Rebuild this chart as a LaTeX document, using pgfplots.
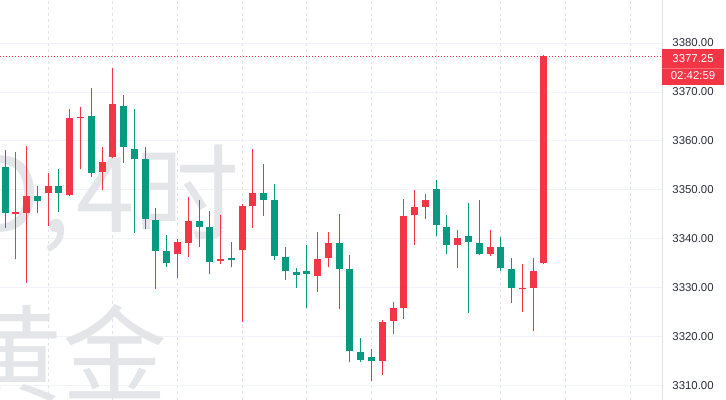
\documentclass[border=0pt]{standalone}
\usepackage{fontspec}
\setmainfont{Liberation Sans}
\newfontfamily\cjk{Noto Sans CJK SC}
\usepackage{pgfplots}
\usepackage{pgfplotstable}
\pgfplotsset{compat=1.18}

\definecolor{upred}{HTML}{F23645}
\definecolor{dngreen}{HTML}{089981}
\definecolor{gridc}{HTML}{F0F3FA}
\definecolor{vgridc}{HTML}{E0E3EB}
\definecolor{wmark}{HTML}{E4E5E8}
\definecolor{lab}{HTML}{2A2E39}

% 4h candles, red = close above open
\pgfplotstableread{
i  o       h       l       c
1  3345.2  3357.7  3335.9  3345.3
2  3345.4  3359.0  3331.1  3348.8
4  3349.3  3353.4  3342.7  3350.8
6  3349.0  3366.5  3348.8  3364.6
7  3364.7  3367.0  3354.2  3364.9
9  3353.7  3358.7  3350.0  3355.7
10 3356.8  3374.8  3356.5  3367.5
16 3336.9  3339.9  3332.0  3339.3
17 3339.2  3348.6  3336.4  3343.7
20 3335.6  3344.9  3334.9  3335.8
22 3337.8  3347.1  3323.1  3346.8
23 3346.8  3358.3  3342.2  3349.4
29 3332.5  3341.5  3329.1  3335.9
30 3336.1  3341.5  3334.2  3339.1
35 3315.2  3323.5  3312.2  3323.1
36 3323.3  3327.2  3320.6  3325.9
37 3326.0  3348.1  3323.7  3344.7
38 3344.8  3350.0  3338.8  3346.5
39 3346.6  3349.2  3344.0  3348.0
42 3338.8  3341.8  3334.0  3340.3
45 3336.9  3341.8  3336.5  3338.3
48 3329.7  3334.9  3325.0  3329.9
49 3329.9  3336.1  3321.2  3333.5
50 3335.0  3377.5  3334.9  3377.25
}\up

\pgfplotstableread{
i  o       h       l       c
0  3354.6  3358.2  3342.2  3345.4
3  3348.8  3350.8  3345.4  3347.8
5  3350.8  3354.2  3345.6  3349.3
8  3365.2  3370.8  3352.7  3353.5
11 3367.2  3369.4  3355.6  3358.8
12 3358.3  3366.5  3341.3  3356.3
13 3356.3  3358.8  3342.0  3344.1
14 3343.9  3346.3  3329.7  3337.6
15 3337.6  3340.8  3334.2  3335.2
18 3343.7  3348.0  3338.3  3342.5
19 3342.4  3345.8  3332.8  3335.4
21 3336.0  3339.4  3334.2  3335.8
24 3349.4  3355.4  3344.7  3348.0
25 3348.0  3351.2  3335.7  3336.5
26 3336.4  3338.4  3331.6  3333.5
27 3333.3  3334.0  3329.9  3332.7
28 3333.5  3338.8  3325.9  3332.8
31 3339.2  3345.1  3325.7  3333.8
32 3333.8  3336.7  3314.8  3317.2
33 3317.0  3319.7  3314.8  3315.3
34 3316.0  3317.5  3311.1  3315.1
40 3350.3  3352.0  3340.6  3342.9
41 3342.4  3344.8  3336.9  3338.8
43 3340.6  3347.4  3324.8  3339.3
44 3339.2  3348.0  3336.7  3336.9
46 3338.4  3340.5  3333.5  3334.0
47 3333.9  3336.1  3326.9  3329.9
}\down

\begin{document}
\begin{tikzpicture}
\begin{axis}[
    at={(0,0)}, anchor=south west,
    scale only axis, width=331pt, height=200pt,
    xmin=-0.464, xmax=60.95, ymin=3307.14, ymax=3388.78,
    axis line style={draw=none},
    xtick={4,10,...,58}, xticklabels={},
    ytick={3310,3320,...,3380},
    yticklabel pos=right,
    major tick length=0pt,
    xmajorgrids, ymajorgrids,
    x grid style={vgridc, dash pattern=on 1.5pt off 1.5pt, line width=0.5pt},
    y grid style={gridc, line width=0.5pt},
    /pgf/number format/assume math mode=true,
    yticklabel style={anchor=west, inner sep=0pt, xshift=5pt,
        font=\fontsize{5.7pt}{6pt}\selectfont, text=lab,
        /pgf/number format/fixed, /pgf/number format/fixed zerofill,
        /pgf/number format/precision=2, /pgf/number format/1000 sep={}},
    candle/.style={draw=none, mark=none, forget plot,
        error bars/y dir=plus, error bars/y explicit,
        error bars/error mark=none,
        error bars/error bar style={draw=#1}},
]
% watermark
\node[anchor=base east, inner sep=0pt, text=wmark, font=\cjk\fontsize{52.5pt}{60pt}\selectfont]
    at (axis cs:21.8,3341.4) {XAUUSD,\kern3pt 4时};
\node[anchor=base east, inner sep=0pt, text=wmark, font=\cjk\fontsize{52.5pt}{60pt}\selectfont]
    at (axis cs:15.1,3308.4) {黄金};

% current price line
\addplot[upred, line width=0.5pt, dash pattern=on 0.5pt off 1pt, forget plot]
    coordinates {(-1,3377.25) (61,3377.25)};

% wicks
\addplot[candle=upred, error bars/error bar style={line width=0.5pt}]
    table[x=i, y=l, y error expr=\thisrow{h}-\thisrow{l}] {\up};
\addplot[candle=dngreen, error bars/error bar style={line width=0.5pt}]
    table[x=i, y=l, y error expr=\thisrow{h}-\thisrow{l}] {\down};
% bodies
\addplot[candle=upred, error bars/error bar style={line width=3.5pt}]
    table[x=i, y=o, y error expr={max(\thisrow{c}-\thisrow{o},0.25)}] {\up};
\addplot[candle=dngreen, error bars/error bar style={line width=3.5pt}]
    table[x=i, y=c, y error expr={max(\thisrow{o}-\thisrow{c},0.25)}] {\down};

\coordinate (pl) at (axis cs:60.95,3377.25);
\end{axis}

% price scale separator and last-price tag
\draw[vgridc, line width=0.5pt] (331pt,0) -- (331pt,200pt);
\fill[upred] ([yshift=3.8pt]pl) rectangle ([xshift=31pt,yshift=-14.2pt]pl);
\draw[upred!75!white, line width=0.3pt] ([yshift=-5.7pt]pl) -- ([xshift=31pt,yshift=-5.7pt]pl);
\node[text=white, inner sep=0pt, font=\fontsize{5.7pt}{6pt}\selectfont]
    at ([xshift=15.5pt,yshift=-1pt]pl) {3377.25};
\node[text=white, inner sep=0pt, font=\fontsize{5.7pt}{6pt}\selectfont]
    at ([xshift=15.5pt,yshift=-9.7pt]pl) {02:42:59};

\pgfresetboundingbox
\path[use as bounding box] (0,0) rectangle (363pt,200pt);
\end{tikzpicture}
\end{document}
